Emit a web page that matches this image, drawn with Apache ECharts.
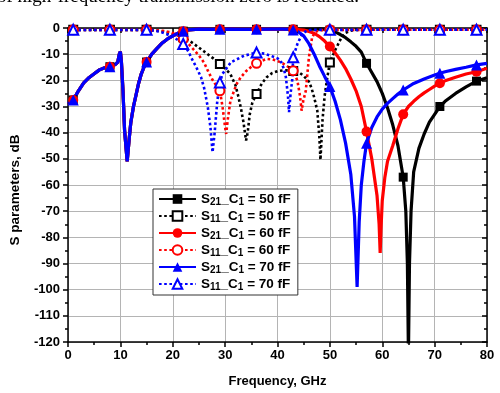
<!DOCTYPE html>
<html><head><meta charset="utf-8">
<script src="https://cdn.jsdelivr.net/npm/echarts@6/dist/echarts.min.js"></script>
<style>html,body{margin:0;padding:0;background:#fff}#c{width:500px;height:393px}</style>
</head><body><div id="c"></div>
<script>
// ---- data ----
const markerFreqs = [1,8,15,22,29,36,43,50,57,64,71,78];

// stop-band S21 (identical for all three capacitances)
const lowF   = [0,1,2,3,4,5,6,7,8,9,9.5,9.8,10,10.2,10.5,10.8,11.3,11.7,12,12.5,13,13.5,14,14.5,15,16,17,18,19,20,21,22];
const lowS21 = [-29,-27.5,-24,-21,-19,-17.5,-16,-15.2,-14.8,-14,-13,-10,-9,-13,-24,-39,-51,-42,-36,-30,-25.5,-21,-17.5,-15,-13,-10,-7.8,-5.7,-4.2,-3,-2,-1.2];

const f21_50 = [23,25,27,29,31,33,36,39,42,43,45,47,48,49,50,51,52,53,54,55,56,57,58,59,60,61,62,63,64,64.5,64.8,65,65.2,65.5,66,67,68,69,70,71,72,74,76,78,80];
const s21_50 = [-0.7,-0.4,-0.5,-0.5,-0.4,-0.5,-0.5,-0.4,-0.5,-0.5,-0.4,-0.4,-0.3,-0.4,-0.8,-1.5,-2.5,-3.7,-5.3,-7,-9.2,-13.5,-17,-20.5,-25,-30.5,-37,-45,-57,-70,-90,-125,-90,-70,-55,-46,-40.5,-36,-33,-30,-28,-25,-22.5,-20.3,-19];

const f21_60 = [23,25,27,29,31,33,36,39,42,43,44,45,46,47,48,49,50,51,52,53,54,55,56,57,58,59,59.4,59.6,59.8,60,60.5,61,62,63,64,65,66,67,68,69,70,71,72,74,76,78,80];
const s21_60 = [-0.7,-0.4,-0.5,-0.5,-0.4,-0.5,-0.5,-0.4,-0.5,-0.5,-0.6,-0.8,-1.3,-2,-3.3,-5,-7.1,-9.5,-12.3,-15.5,-19.5,-24,-30,-39.6,-50,-64,-75,-86,-75,-66,-57,-51,-45,-38.5,-33,-30,-28,-26.3,-24.8,-23.5,-22.2,-21.1,-20.2,-18.8,-17.6,-16.7,-15.4];

const f21_70 = [23,25,27,29,31,33,36,39,41,42,43,44,45,46,47,48,49,50,51,52,53,54,54.7,55.2,55.6,56,56.5,57,58,59,60,61,62,63,64,66,68,70,71,72,74,76,78,80];
const s21_70 = [-0.7,-0.4,-0.5,-0.5,-0.4,-0.5,-0.5,-0.4,-0.4,-0.5,-0.8,-1.5,-3,-6,-10,-14.5,-18.5,-22.4,-28,-35,-44,-56,-72,-99,-74,-60,-51,-44,-38,-34,-31,-28.8,-27,-25.2,-23.7,-21.2,-19.5,-18,-17.3,-16.7,-15.8,-15,-14.1,-13.5];

const f11_50 = [0,1,4,8,11,15,16,17,18,19,20,21,22,23,24,25,26,27,28,29,30,31,32,32.5,33,33.5,34,34.3,34.7,35.2,36,37,38,39,40,41,42,43,44,45,46,46.5,47,47.6,48,48.2,48.6,49,49.5,50,51,51.5,52,52.6,53,54,55,57,60,64,68,71,75,78,80];
const s11_50 = [-0.7,-0.7,-0.7,-0.7,-0.7,-0.7,-0.8,-1,-1.3,-1.7,-2.2,-2.8,-3.5,-4.7,-6,-7.5,-9,-10.5,-12,-13.8,-15.5,-17.6,-22,-26,-30.5,-36,-43,-40,-33,-28.5,-25.2,-21.2,-18.7,-17.2,-16.5,-16.2,-16.2,-16.4,-16.8,-18.3,-20.5,-23,-26.5,-31.6,-42,-50.4,-35,-26,-19,-13.2,-8.5,-6.5,-4.5,-2.7,-1.8,-1,-0.7,-0.7,-0.6,-0.7,-0.6,-0.7,-0.6,-0.7,-0.6];

const f11_60 = [0,1,4,8,11,15,16,17,18,19,20,21,22,23,24,25,26,26.7,27.5,28.3,29,29.5,30,30.2,30.5,31,31.7,32.3,33,34,35,36,37,38,39,40,41,42,43,43.8,44.3,44.6,44.9,45.4,46,46.6,47.2,48,50,53,57,60,64,68,71,75,78,80];
const s11_60 = [-0.7,-0.7,-0.7,-0.7,-0.7,-0.7,-0.8,-0.9,-1.1,-1.4,-1.9,-2.8,-4.2,-6,-8.3,-10.5,-13.3,-16.3,-19.5,-22,-24,-30,-38,-40.5,-35,-28,-24,-21,-18.8,-16.5,-14.8,-13.5,-12.5,-11.8,-12,-12.6,-13.5,-14.8,-16.3,-20.1,-26,-31.6,-28,-24,-11.2,-3.6,-1.5,-0.9,-0.7,-0.7,-0.7,-0.6,-0.7,-0.6,-0.7,-0.6,-0.7,-0.6];

const f11_70 = [0,1,4,8,11,15,16,17,18,19,20,21,22,23,23.5,24.5,25.4,26,26.7,27.2,27.6,28,28.5,29,29.5,30.5,31.1,33.6,36,37.5,38.7,40,40.6,41.2,41.6,42,42.2,42.5,42.8,43,43.8,44.7,45.6,46.5,50,53,57,60,64,68,71,75,78,80];
const s11_70 = [-0.7,-0.7,-0.7,-0.7,-0.7,-0.7,-0.9,-1.2,-1.7,-2.5,-3.4,-4.6,-6.1,-9,-11.2,-15,-18.8,-23,-30.3,-38,-47.5,-40,-28,-20.8,-17.5,-14.8,-13.1,-10.6,-9.4,-9.8,-10.6,-11.6,-12.5,-15.5,-18.8,-26,-32.2,-25,-20.1,-11.2,-6.1,-2.3,-1,-0.7,-0.7,-0.7,-0.7,-0.6,-0.7,-0.6,-0.7,-0.6,-0.7,-0.6];

const seriesNames = ['S21_C1 = 50 fF','S11_C1 = 50 fF','S21_C1 = 60 fF','S11_C1 = 60 fF','S21_C1 = 70 fF','S11_C1 = 70 fF'];
const legendRich = [
  '{m|S}{s|21}{m|_C}{s|1}{m| = 50 fF}','{m|S}{s|11}{m|_C}{s|1}{m| = 50 fF}',
  '{m|S}{s|21}{m|_C}{s|1}{m| = 60 fF}','{m|S}{s|11}{m|_C}{s|1}{m| = 60 fF}',
  '{m|S}{s|21}{m|_C}{s|1}{m| = 70 fF}','{m|S}{s|11}{m|_C}{s|1}{m| = 70 fF}'];

// ---- build ----
function pairs(xs, ys){ return xs.map((x,i)=>[x, ys[i]]); }
const FONT = '"Liberation Sans", Arial, sans-serif';
function mkSeries(name, xs, ys, color, symbol, size, dotted){
  return {
    name, type:'line', data: pairs(xs, ys), clip:true,
    symbol, showSymbol:true, showAllSymbol:true,
    symbolSize: (v)=> markerFreqs.indexOf(v[0])>=0 ? size : 0,
    lineStyle:{color, width: dotted?2.6:3.2, type: dotted?[2.6,2.6]:'solid'},
    itemStyle:{color, borderColor:color, borderWidth: dotted?2:0},
    emphasis:{disabled:true}, z: 2
  };
}
const series = [
  mkSeries(seriesNames[0], lowF.concat(f21_50), lowS21.concat(s21_50), '#000000','rect',9,false),
  mkSeries(seriesNames[1], f11_50, s11_50, '#000000','emptyRect',8,true),
  mkSeries(seriesNames[2], lowF.concat(f21_60), lowS21.concat(s21_60), '#ff0000','circle',10,false),
  mkSeries(seriesNames[3], f11_60, s11_60, '#ff0000','emptyCircle',9,true),
  mkSeries(seriesNames[4], lowF.concat(f21_70), lowS21.concat(s21_70), '#0000ff','triangle',11,false),
  mkSeries(seriesNames[5], f11_70, s11_70, '#0000ff','emptyTriangle',10,true)
];

const axisBlack = {color:'#000', width:1.5};
const chart = echarts.init(document.getElementById('c'), null, {renderer:'canvas'});
chart.setOption({
  animation:false,
  backgroundColor:'#fff',
  grid:{left:66, right:13, top:28, bottom:51},
  xAxis:[{
    type:'value', min:0, max:80, interval:10,
    axisLine:{onZero:false, lineStyle:axisBlack},
    axisTick:{inside:false, length:5, lineStyle:axisBlack},
    minorTick:{show:true, splitNumber:2, length:3, lineStyle:axisBlack},
    splitLine:{show:true, lineStyle:{color:'#b4b4b4', width:1}},
    axisLabel:{color:'#000', fontWeight:'bold', fontSize:13, fontFamily:FONT, margin:7},
    name:'Frequency, GHz', nameLocation:'middle', nameGap:33,
    nameTextStyle:{color:'#000', fontWeight:'bold', fontSize:13, fontFamily:FONT}
  },{
    type:'value', position:'top', min:0, max:80, interval:10,
    axisLine:{onZero:false, lineStyle:axisBlack},
    axisTick:{inside:true, length:5, lineStyle:axisBlack},
    minorTick:{show:true, splitNumber:2, length:3, lineStyle:axisBlack},
    splitLine:{show:false}, axisLabel:{show:false}
  }],
  yAxis:[{
    type:'value', min:-120, max:0, interval:10,
    axisLine:{onZero:false, lineStyle:axisBlack},
    axisTick:{inside:false, length:5, lineStyle:axisBlack},
    minorTick:{show:true, splitNumber:2, length:3, lineStyle:axisBlack},
    splitLine:{show:true, lineStyle:{color:'#b4b4b4', width:1}},
    axisLabel:{color:'#000', fontWeight:'bold', fontSize:13, fontFamily:FONT, margin:8},
    name:'S parameters, dB', nameLocation:'middle', nameGap:46, nameRotate:90,
    nameTextStyle:{color:'#000', fontWeight:'bold', fontSize:13.5, fontFamily:FONT, padding:[0,10,0,0]}
  },{
    type:'value', position:'right', min:-120, max:0, interval:10,
    axisLine:{onZero:false, lineStyle:axisBlack},
    axisTick:{inside:true, length:5, lineStyle:axisBlack},
    minorTick:{show:true, splitNumber:2, length:3, lineStyle:axisBlack},
    splitLine:{show:false}, axisLabel:{show:false}
  }],
  legend:{
    orient:'vertical', left:153, top:189,
    backgroundColor:'#fff', borderColor:'#333', borderWidth:1,
    padding:[3,7,3,5], itemWidth:37, itemHeight:12, itemGap:2,
    data: seriesNames,
    formatter: (n)=> legendRich[seriesNames.indexOf(n)],
    textStyle:{color:'#000', rich:{
      m:{fontSize:13.5, fontWeight:'bold', fontFamily:FONT, lineHeight:16, color:'#000'},
      s:{fontSize:10, fontWeight:'bold', fontFamily:FONT, lineHeight:16, verticalAlign:'bottom', padding:[3,0,0,0], color:'#000'}
    }},
    selectedMode:false
  },
  graphic:[{
    type:'text', left:-3, top:-12, silent:true,
    style:{text:'of high-frequency transmission zero is resulted.', font:'19px "Liberation Serif", "Times New Roman", serif', fill:'#000'}
  }],
  series
});
</script>
</body></html>
